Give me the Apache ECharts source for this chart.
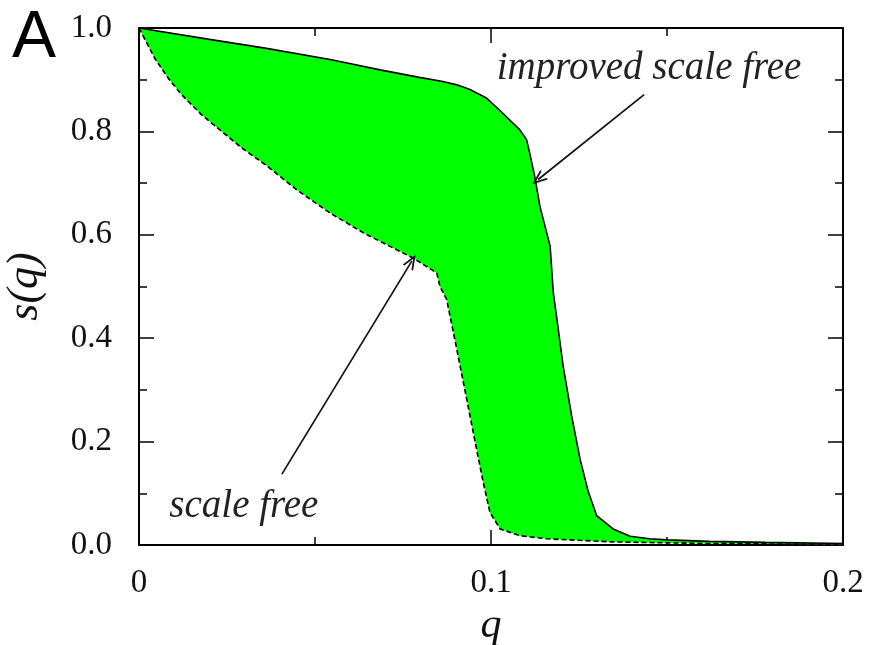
<!DOCTYPE html>
<html>
<head>
<meta charset="utf-8">
<style>
  html, body { margin: 0; padding: 0; background: #fff; }
  #chart { width: 869px; height: 645px; }
</style>
<script src="https://cdn.jsdelivr.net/npm/echarts@6/dist/echarts.min.js"></script>
</head>
<body>
<div id="chart"></div>
<script>
// Improved scale-free network (solid upper boundary)
const improvedQ = [0, 0.0200, 0.0358, 0.0543, 0.0685, 0.0800, 0.0860, 0.0903, 0.0940, 0.0969, 0.0988, 0.1026, 0.1082, 0.1101, 0.1110, 0.1125, 0.1139, 0.1168, 0.1177, 0.1186, 0.1205, 0.1229, 0.1253, 0.1276, 0.1300, 0.1347, 0.1395, 0.1450, 0.1500, 0.1620, 0.1780, 0.2000];
const improvedS = [1.000, 0.978, 0.961, 0.939, 0.919, 0.904, 0.897, 0.890, 0.881, 0.871, 0.864, 0.840, 0.803, 0.784, 0.758, 0.710, 0.655, 0.578, 0.488, 0.443, 0.346, 0.250, 0.166, 0.104, 0.057, 0.031, 0.017, 0.012, 0.010, 0.007, 0.005, 0.003];

// Plain scale-free network (dashed lower boundary)
const scaleFreeQ = [0, 0.0045, 0.0083, 0.0121, 0.0178, 0.0235, 0.0292, 0.0358, 0.0448, 0.0543, 0.0637, 0.0732, 0.0779, 0.0846, 0.0855, 0.0874, 0.0903, 0.0931, 0.0959, 0.0978, 0.0997, 0.1026, 0.1082, 0.1158, 0.1347, 0.1600, 0.2000];
const scaleFreeS = [1.000, 0.941, 0.903, 0.871, 0.832, 0.800, 0.768, 0.736, 0.687, 0.642, 0.604, 0.571, 0.555, 0.526, 0.500, 0.475, 0.378, 0.282, 0.185, 0.121, 0.063, 0.031, 0.018, 0.012, 0.006, 0.003, 0.001];

const xTicks = [0, 0.1, 0.2];

// Annotation arrows: [tail, head] in (q, s)
const improvedArrow = [[0.1435, 0.871], [0.1134, 0.707]];
const scaleFreeArrow = [[0.0406, 0.137], [0.0775, 0.549]];
const improvedLabelAt = [0.1449, 0.921];
const scaleFreeLabelAt = [0.0298, 0.074];

const pair = (xs, ys) => xs.map((x, i) => [x, ys[i]]);

const serif = "'Liberation Serif', 'DejaVu Serif', serif";
const tickLabel = { fontFamily: serif, fontSize: 33, color: '#111' };
const axisLine = { show: true, onZero: false, lineStyle: { color: '#000', width: 2 } };
const axisTick = { show: true, inside: true, length: 15, lineStyle: { color: '#000', width: 1.5 } };
const minorTick = { show: true, splitNumber: 2, length: 8, lineStyle: { color: '#000', width: 1.5 } };

const chevron = 'path://M5,0 L10,10 L8.4,10 L5,3.2 L1.6,10 L0,10 Z';

const chart = echarts.init(document.getElementById('chart'), null, { renderer: 'canvas' });

chart.setOption({
  animation: false,
  backgroundColor: '#fff',
  grid: { left: 139, top: 28, right: 26, bottom: 100, outerBoundsMode: 'none', containLabel: false },
  graphic: [{
    type: 'text', left: 12, top: 6,
    style: { text: 'A', fontFamily: "'Liberation Sans', 'DejaVu Sans', sans-serif", fontSize: 66, fill: '#000' }
  }],
  xAxis: [{
    type: 'value', min: 0, max: 0.2, interval: 0.1,
    name: 'q', nameLocation: 'middle', nameGap: 26,
    nameTextStyle: { fontFamily: serif, fontStyle: 'italic', fontSize: 42, color: '#111' },
    axisLine, axisTick, minorTick,
    axisLabel: Object.assign({ margin: 22, formatter: v => xTicks.includes(+v.toFixed(2)) ? String(+v.toFixed(1)) : '' }, tickLabel),
    splitLine: { show: false }, minorSplitLine: { show: false }
  }, {
    type: 'value', position: 'top', min: 0, max: 0.2, interval: 0.1,
    axisLine, axisTick, minorTick, axisLabel: { show: false }, splitLine: { show: false }
  }],
  yAxis: [{
    type: 'value', min: 0, max: 1, interval: 0.2,
    name: 's(q)', nameLocation: 'middle', nameGap: 92, nameRotate: 90,
    nameTextStyle: { fontFamily: serif, fontStyle: 'italic', fontSize: 44, color: '#111' },
    axisLine, axisTick, minorTick,
    axisLabel: Object.assign({ margin: 27, formatter: v => v.toFixed(1) }, tickLabel),
    splitLine: { show: false }
  }, {
    type: 'value', position: 'right', min: 0, max: 1, interval: 0.2,
    axisLine, axisTick, minorTick, axisLabel: { show: false }, splitLine: { show: false }
  }],
  series: [{
    // green band between the two curves
    type: 'custom',
    z: 1,
    silent: true,
    data: [[0, 0]],
    renderItem: (params, api) => {
      const pts = [];
      for (let i = 0; i < improvedQ.length; i++) pts.push(api.coord([improvedQ[i], improvedS[i]]));
      for (let i = scaleFreeQ.length - 1; i >= 0; i--) pts.push(api.coord([scaleFreeQ[i], scaleFreeS[i]]));
      return { type: 'polygon', shape: { points: pts }, style: { fill: '#00ff00', stroke: null } };
    }
  }, {
    name: 'improved scale free',
    type: 'line', z: 3,
    data: pair(improvedQ, improvedS),
    symbol: 'none',
    lineStyle: { color: '#000', width: 1.6 },
    markLine: {
      silent: true, symbol: ['none', chevron], symbolSize: [12, 15],
      label: { show: false },
      lineStyle: { color: '#111', width: 1.7, type: 'solid' },
      data: [[{ coord: improvedArrow[0] }, { coord: improvedArrow[1] }]]
    },
    markPoint: {
      silent: true,
      data: [{
        coord: improvedLabelAt, symbol: 'circle', symbolSize: 0,
        label: { show: true, position: 'inside', formatter: 'improved scale free',
          fontFamily: serif, fontStyle: 'italic', fontSize: 39, color: '#222' }
      }]
    }
  }, {
    name: 'scale free',
    type: 'line', z: 3,
    data: pair(scaleFreeQ, scaleFreeS),
    symbol: 'none',
    lineStyle: { color: '#000', width: 1.6, type: [5, 3] },
    markLine: {
      silent: true, symbol: ['none', chevron], symbolSize: [12, 15],
      label: { show: false },
      lineStyle: { color: '#111', width: 1.7, type: 'solid' },
      data: [[{ coord: scaleFreeArrow[0] }, { coord: scaleFreeArrow[1] }]]
    },
    markPoint: {
      silent: true,
      data: [{
        coord: scaleFreeLabelAt, symbol: 'circle', symbolSize: 0,
        label: { show: true, position: 'inside', formatter: 'scale free',
          fontFamily: serif, fontStyle: 'italic', fontSize: 39, color: '#222' }
      }]
    }
  }]
});
</script>
</body>
</html>
